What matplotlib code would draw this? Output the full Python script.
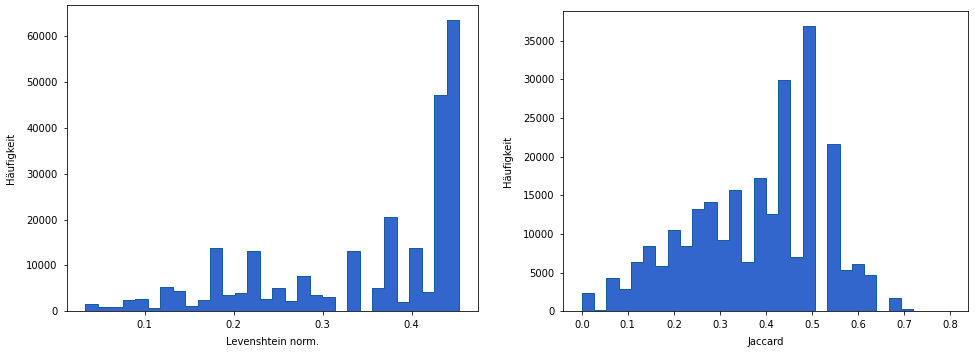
import numpy as np
from matplotlib import pyplot as plt

# Levenshtein norm. histogram (30 bins)
lev_min, lev_max = 0.0332, 0.4537
lev_counts = [1500, 940, 940, 2460, 2680, 650, 5290, 4350, 1160, 2540,
              13900, 3620, 3910, 13040, 2680, 5070, 2170, 7610, 3550, 3120,
              0, 13040, 0, 5070, 20650, 2030, 13900, 4200, 47170, 63480]

# Jaccard histogram (30 bins)
jac_min, jac_max = 0.0, 0.8
jac_counts = [2320, 130, 4300, 2880, 6330, 8390, 5810, 10460, 8390, 13250,
              14200, 9250, 15750, 6330, 17300, 12610, 29900, 7060, 36960, 0,
              21690, 5340, 6070, 4650, 0, 1680, 260, 0, 0, 0]

fill_color = '#3366cc'
edge_color = '#135f9c'

# reference rendered at 72 dpi
fig = plt.figure(figsize=(975 / 72, 352 / 72), dpi=72)
ax1 = fig.add_axes([0.0684, 0.1156, 0.4218, 0.869])
ax2 = fig.add_axes([0.5778, 0.1156, 0.4154, 0.852])

def draw_hist(ax, counts, lo, hi, xlabel):
    edges = np.linspace(lo, hi, len(counts) + 1)
    ax.stairs(counts, edges, fill=True, color=fill_color)
    ax.stairs(counts, edges, color=edge_color, linewidth=1, baseline=0)
    ax.set_xlim(lo - 0.05 * (hi - lo), hi + 0.05 * (hi - lo))
    ax.set_ylim(0, max(counts) * 1.05)
    ax.tick_params(pad=5.5)
    ax.set_xlabel(xlabel, labelpad=7)
    ax.set_ylabel('Häufigkeit', labelpad=10)

draw_hist(ax1, lev_counts, lev_min, lev_max, 'Levenshtein norm.')
draw_hist(ax2, jac_counts, jac_min, jac_max, 'Jaccard')
ax1.set_xticks([0.1, 0.2, 0.3, 0.4])
ax2.set_xticks(np.arange(0, 0.81, 0.1))

plt.savefig('out.png', dpi=72)
